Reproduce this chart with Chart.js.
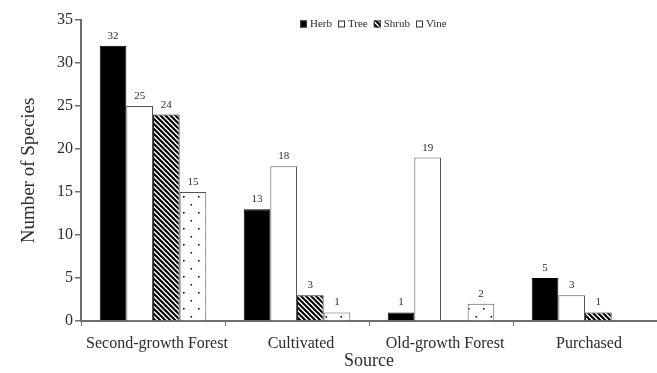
<!DOCTYPE html>
<html>
<head>
<meta charset="utf-8">
<script src="https://cdn.jsdelivr.net/npm/chart.js@4/dist/chart.umd.min.js"></script>
<style>
  html, body { margin: 0; padding: 0; background: #fff; }
  #wrap { width: 657px; height: 373px; position: relative; }
</style>
</head>
<body>
<div id="wrap"><canvas id="c" width="657" height="373"></canvas></div>
<script>
// Species counts by source and growth form
const categories = ['Second-growth Forest', 'Cultivated', 'Old-growth Forest', 'Purchased'];
const herb  = [32, 13, 1, 5];
const tree  = [25, 18, 19, 3];
const shrub = [24, 3, 0, 1];
const vine  = [15, 1, 2, 0];
const seriesNames = ['Herb', 'Tree', 'Shrub', 'Vine'];
const yMax = 35;
const yStep = 5;

const SERIF = '"Liberation Serif", "Times New Roman", serif';
const INK = '#2b2b2b';
const AXIS = '#6e6e6e';

// Diagonal hatch for shrubs
function hatchPattern() {
  const s = 5;
  const c = document.createElement('canvas');
  c.width = s; c.height = s;
  const g = c.getContext('2d');
  g.fillStyle = '#fff';
  g.fillRect(0, 0, s, s);
  g.strokeStyle = '#000';
  g.lineWidth = 2.1;
  for (let k = -1; k <= 1; k++) {
    g.beginPath();
    g.moveTo(k * s - 1, -1);
    g.lineTo(k * s + s + 1, s + 1);
    g.stroke();
  }
  return g.createPattern(c, 'repeat');
}

// Sparse staggered dots for vines
function dotPattern() {
  const w = 15, h = 16;
  const c = document.createElement('canvas');
  c.width = w; c.height = h;
  const g = c.getContext('2d');
  g.fillStyle = '#fff';
  g.fillRect(0, 0, w, h);
  g.fillStyle = '#111';
  g.fillRect(3, 4, 1.6, 1.6);
  g.fillRect(10.5, 12, 1.6, 1.6);
  return g.createPattern(c, 'repeat');
}

const ctx0 = document.getElementById('c').getContext('2d');
const fills = ['#000', '#fff', hatchPattern(), dotPattern()];
const borders = ['#000', '#555', '#222', '#555'];
const values = [herb, tree, shrub, vine];

// Value labels above each non-zero bar
const valueLabels = {
  id: 'valueLabels',
  afterDatasetsDraw(chart) {
    const ctx = chart.ctx;
    ctx.save();
    ctx.font = '11px ' + SERIF;
    ctx.fillStyle = INK;
    ctx.textAlign = 'center';
    ctx.textBaseline = 'alphabetic';
    chart.data.datasets.forEach((ds, i) => {
      const meta = chart.getDatasetMeta(i);
      meta.data.forEach((bar, j) => {
        const v = ds.data[j];
        if (!v) return;
        ctx.fillText(String(v), bar.x, bar.y - 7);
      });
    });
    ctx.restore();
  }
};

// Compact legend row inside the plot area
const inlineLegend = {
  id: 'inlineLegend',
  afterDraw(chart) {
    const ctx = chart.ctx;
    ctx.save();
    ctx.font = '11px ' + SERIF;
    ctx.textBaseline = 'middle';
    let x = 300;
    const y = 24;
    const box = 7;
    chart.data.datasets.forEach((ds) => {
      ctx.fillStyle = ds.backgroundColor;
      ctx.fillRect(x, y - box / 2, box, box);
      ctx.strokeStyle = '#333';
      ctx.lineWidth = 1;
      ctx.strokeRect(x + 0.5, y - box / 2 + 0.5, box - 1, box - 1);
      ctx.fillStyle = INK;
      ctx.fillText(ds.label, x + box + 3, y + 0.5);
      x += box + 3 + ctx.measureText(ds.label).width + 6;
    });
    ctx.restore();
  }
};

new Chart(ctx0, {
  type: 'bar',
  data: {
    labels: categories,
    datasets: seriesNames.map((name, i) => ({
      label: name,
      data: values[i],
      backgroundColor: fills[i],
      borderColor: borders[i],
      borderWidth: 1,
      borderSkipped: 'bottom',
      categoryPercentage: 0.74,
      barPercentage: 1.0
    }))
  },
  options: {
    responsive: false,
    animation: false,
    devicePixelRatio: 1,
    layout: { padding: { top: 20, right: 0, bottom: 0, left: 0 } },
    plugins: {
      legend: { display: false },
      tooltip: { enabled: false }
    },
    scales: {
      x: {
        offset: true,
        grid: {
          offset: true,
          drawOnChartArea: false,
          drawTicks: true,
          tickLength: 5,
          color: AXIS,
          lineWidth: 1
        },
        border: { display: true, color: AXIS, width: 2 },
        ticks: {
          color: INK,
          font: { family: SERIF, size: 16 },
          padding: 8,
          labelOffset: 4,
          maxRotation: 0,
          autoSkip: false
        },
        title: {
          display: true,
          text: 'Source',
          color: INK,
          font: { family: SERIF, size: 18 },
          padding: { top: 0, bottom: 1 }
        },
        afterFit(scale) { scale.height = 52; }
      },
      y: {
        min: 0,
        max: yMax,
        grid: {
          drawOnChartArea: false,
          drawTicks: true,
          tickLength: 6,
          color: AXIS,
          lineWidth: 1.5
        },
        border: { display: true, color: AXIS, width: 2 },
        ticks: {
          stepSize: yStep,
          color: INK,
          font: { family: SERIF, size: 16 },
          padding: 2
        },
        title: {
          display: true,
          text: 'Number of Species',
          color: INK,
          font: { family: SERIF, size: 19 },
          padding: { top: 18, bottom: 0 }
        },
        afterFit(scale) { scale.width = 81; }
      }
    }
  },
  plugins: [valueLabels, inlineLegend]
});
</script>
</body>
</html>
